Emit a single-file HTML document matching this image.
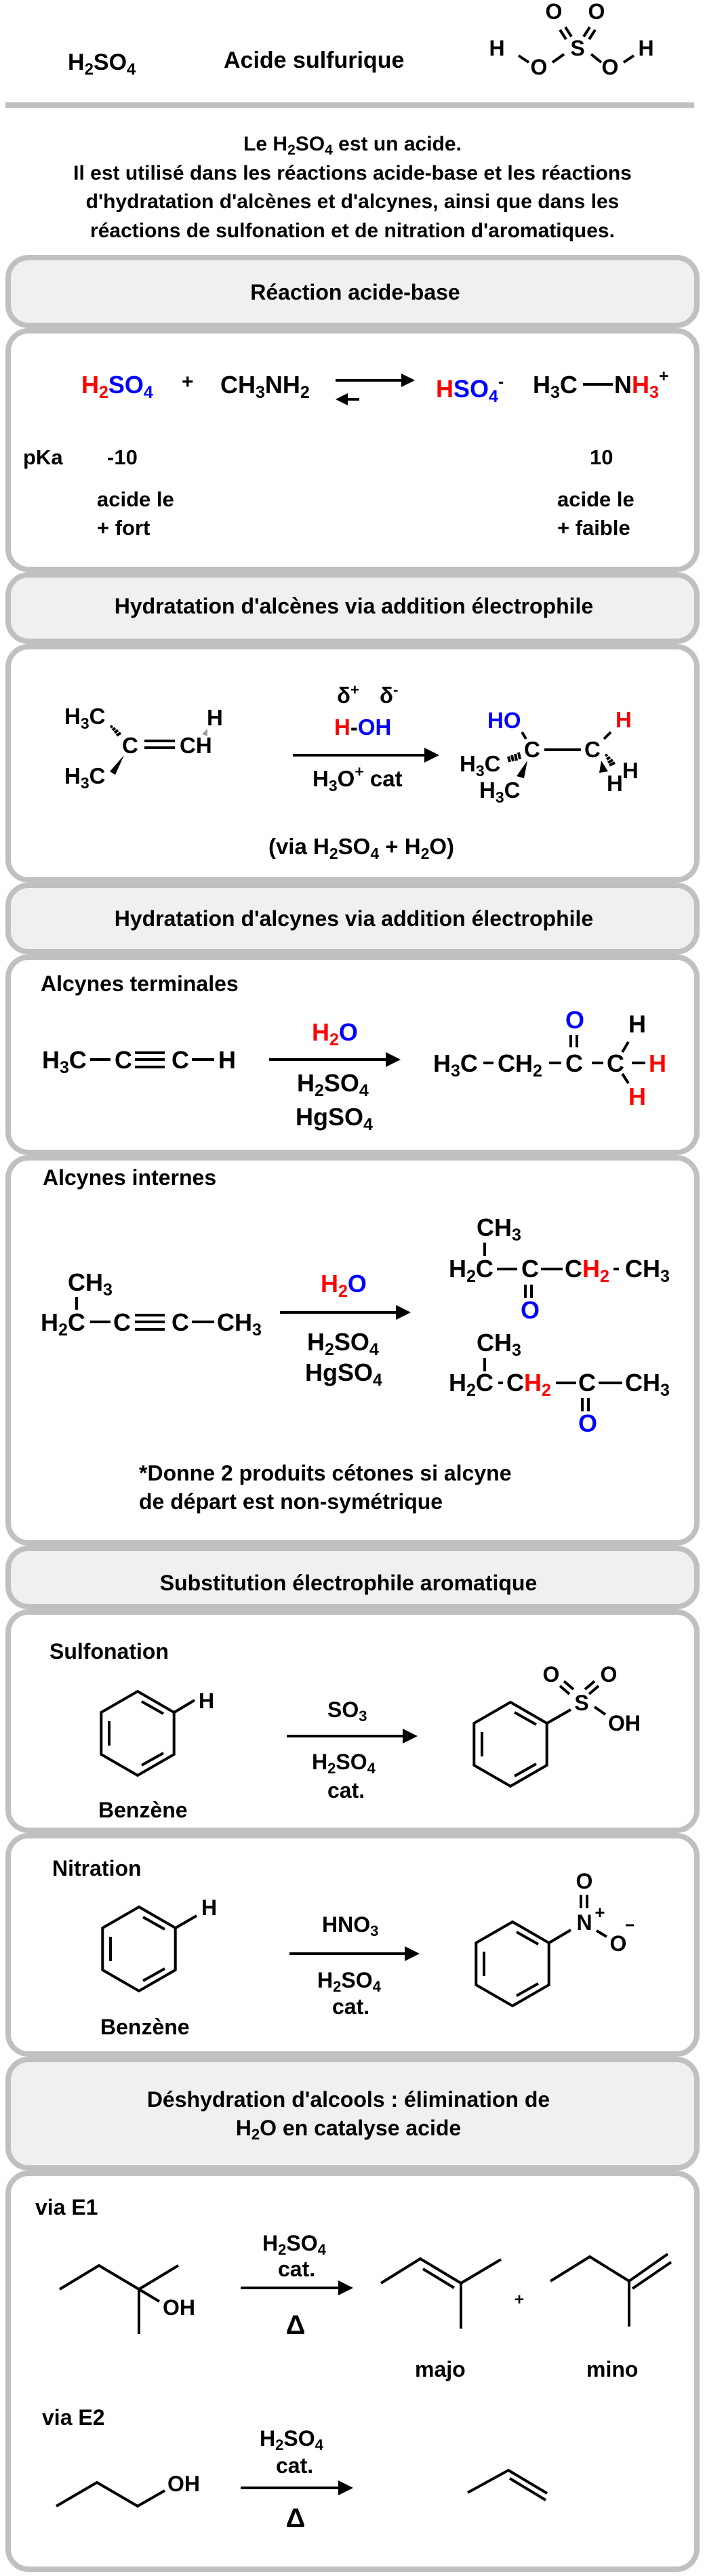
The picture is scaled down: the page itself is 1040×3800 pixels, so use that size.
<!DOCTYPE html>
<html><head><meta charset="utf-8">
<style>
html,body{margin:0;padding:0;background:#fff;}
svg{display:block;}
text{font-family:"Liberation Sans",Arial,sans-serif;font-weight:bold;fill:#000;}
.r{fill:#ff0000;} .b{fill:#0000ff;}
.ln{stroke:#000;stroke-width:4;fill:none;stroke-linecap:butt;}
.bx{fill:#fff;stroke:#c0c0c0;stroke-width:8;}
.hd{fill:#f0f0f0;stroke:#c0c0c0;stroke-width:8;}
</style></head>
<body>
<svg width="1040" height="3800" viewBox="0 0 1040 3800" xmlns="http://www.w3.org/2000/svg">
<defs>
<g id="bz">
<polygon points="0,-62 53.7,-31 53.7,31 0,62 -53.7,31 -53.7,-31" fill="none" stroke="#000" stroke-width="4"/>
<line x1="-42" y1="-18" x2="-42" y2="18" stroke="#000" stroke-width="4"/>
<line x1="6" y1="-47" x2="38" y2="-29" stroke="#000" stroke-width="4"/>
<line x1="38" y1="29" x2="6" y2="47" stroke="#000" stroke-width="4"/>
</g>
</defs>

<!-- top -->
<text x="100" y="103" font-size="34">H<tspan font-size="24" dy="7">2</tspan><tspan dy="-7">SO</tspan><tspan font-size="24" dy="7">4</tspan></text>
<text x="330" y="100" font-size="34">Acide sulfurique</text>
<g font-size="32" text-anchor="middle">
<text x="733" y="82">H</text><text x="795" y="110">O</text><text x="852" y="82">S</text>
<text x="817" y="28">O</text><text x="880" y="28">O</text><text x="900" y="110">O</text><text x="953" y="82">H</text>
</g>
<g class="ln" stroke-width="3.5">
<line x1="765" y1="82" x2="780" y2="92"/><line x1="815" y1="92" x2="832" y2="80"/>
<line x1="872" y1="80" x2="887" y2="92"/><line x1="920" y1="92" x2="935" y2="82"/>
<line x1="826" y1="44" x2="835" y2="58"/><line x1="834" y1="40" x2="843" y2="54"/>
<line x1="861" y1="54" x2="870" y2="40"/><line x1="869" y1="58" x2="878" y2="44"/>
</g>
<rect x="8" y="151" width="1016" height="8" fill="#c0c0c0"/>

<g font-size="30" text-anchor="middle">
<text x="520" y="222">Le H<tspan font-size="21" dy="6">2</tspan><tspan dy="-6">SO</tspan><tspan font-size="21" dy="6">4</tspan><tspan dy="-6"> est un acide.</tspan></text>
<text x="520" y="265">Il est utilisé dans les réactions acide-base et les réactions</text>
<text x="520" y="307">d'hydratation d'alcènes et d'alcynes, ainsi que dans les</text>
<text x="520" y="350">réactions de sulfonation et de nitration d'aromatiques.</text>
</g>

<!-- boxes -->
<rect class="hd" x="12" y="380" width="1016" height="100" rx="30"/>
<rect class="bx" x="12" y="488" width="1016" height="352" rx="30"/>
<rect class="hd" x="12" y="848" width="1016" height="98" rx="30"/>
<rect class="bx" x="12" y="954" width="1016" height="344" rx="30"/>
<rect class="hd" x="12" y="1306" width="1016" height="98" rx="30"/>
<rect class="bx" x="12" y="1412" width="1016" height="288" rx="30"/>
<rect class="bx" x="12" y="1708" width="1016" height="568" rx="30"/>
<rect class="hd" x="12" y="2284" width="1016" height="86" rx="30"/>
<rect class="bx" x="12" y="2378" width="1016" height="322" rx="30"/>
<rect class="bx" x="12" y="2708" width="1016" height="322" rx="30"/>
<rect class="hd" x="12" y="3038" width="1016" height="160" rx="30"/>
<rect class="bx" x="12" y="3206" width="1016" height="584" rx="30"/>

<g font-size="32" text-anchor="middle">
<text x="524" y="442">Réaction acide-base</text>
<text x="522" y="905">Hydratation d'alcènes via addition électrophile</text>
<text x="522" y="1366">Hydratation d'alcynes via addition électrophile</text>
<text x="514" y="2346">Substitution électrophile aromatique</text>
<text x="514" y="3108">Déshydration d'alcools : élimination de</text>
<text x="514" y="3150">H<tspan font-size="22" dy="6">2</tspan><tspan dy="-6">O en catalyse acide</tspan></text>
</g>

<!-- Box 1 acid-base -->
<g font-size="36">
<text x="120" y="580"><tspan class="r">H</tspan><tspan class="r" font-size="25" dy="7">2</tspan><tspan class="b" dy="-7">SO</tspan><tspan class="b" font-size="25" dy="7">4</tspan></text>
<text x="268" y="573" font-size="30">+</text>
<text x="325" y="580">CH<tspan font-size="25" dy="7">3</tspan><tspan dy="-7">NH</tspan><tspan font-size="25" dy="7">2</tspan></text>
<text x="643" y="586"><tspan class="r">H</tspan><tspan class="b">SO</tspan><tspan class="b" font-size="25" dy="7">4</tspan><tspan font-size="25" dy="-22">-</tspan></text>
<text x="786" y="580">H<tspan font-size="25" dy="7">3</tspan><tspan dy="-7">C</tspan></text>
<text x="906" y="580">N<tspan class="r">H</tspan><tspan class="r" font-size="25" dy="7">3</tspan><tspan font-size="25" dy="-24">+</tspan></text>
</g>
<line class="ln" x1="860" y1="567" x2="904" y2="567"/>
<line class="ln" x1="495" y1="561" x2="598" y2="561"/>
<polygon points="612,561 592,551 592,571"/>
<line class="ln" x1="530" y1="589" x2="510" y2="589"/>
<polygon points="495,589 513,580 513,598"/>
<g font-size="31">
<text x="34" y="685">pKa</text>
<text x="158" y="685">-10</text>
<text x="143" y="747">acide le</text>
<text x="143" y="789">+ fort</text>
<text x="870" y="685">10</text>
<text x="822" y="747">acide le</text>
<text x="822" y="789">+ faible</text>
</g>

<!-- Box 2 alkene -->
<g font-size="33">
<text x="95" y="1068">H<tspan font-size="23" dy="7">3</tspan><tspan dy="-7">C</tspan></text>
<text x="95" y="1156">H<tspan font-size="23" dy="7">3</tspan><tspan dy="-7">C</tspan></text>
<text x="180" y="1111">C</text>
<text x="265" y="1111">CH</text>
<text x="305" y="1070">H</text>
<text x="497" y="1037" font-family="Liberation Serif" font-weight="normal">δ<tspan font-size="22" dy="-12" font-family="Liberation Sans" font-weight="bold">+</tspan></text>
<text x="560" y="1037" font-family="Liberation Serif" font-weight="normal">δ<tspan font-size="22" dy="-12" font-family="Liberation Sans" font-weight="bold">-</tspan></text>
<text x="493" y="1084"><tspan class="r">H</tspan><tspan>-</tspan><tspan class="b">OH</tspan></text>
<text x="461" y="1160">H<tspan font-size="23" dy="7">3</tspan><tspan dy="-7">O</tspan><tspan font-size="23" dy="-14">+</tspan><tspan dy="14"> cat</tspan></text>
<text x="719" y="1074" class="b">HO</text>
<text x="773" y="1117">C</text>
<text x="862" y="1117">C</text>
<text x="908" y="1073" class="r">H</text>
<text x="678" y="1138">H<tspan font-size="23" dy="7">3</tspan><tspan dy="-7">C</tspan></text>
<text x="707" y="1177">H<tspan font-size="23" dy="7">3</tspan><tspan dy="-7">C</tspan></text>
<text x="918" y="1148">H</text>
<text x="895" y="1167">H</text>
<text x="533" y="1260" text-anchor="middle">(via H<tspan font-size="23" dy="7">2</tspan><tspan dy="-7">SO</tspan><tspan font-size="23" dy="7">4</tspan><tspan dy="-7"> + H</tspan><tspan font-size="23" dy="7">2</tspan><tspan dy="-7">O)</tspan></text>
</g>
<line class="ln" x1="213" y1="1093" x2="258" y2="1093"/>
<line class="ln" x1="213" y1="1103" x2="258" y2="1103"/>
<g class="ln" stroke-width="2">
<line x1="163" y1="1073" x2="166" y2="1071"/><line x1="166" y1="1077" x2="170" y2="1074"/><line x1="169" y1="1081" x2="174" y2="1077"/><line x1="172" y1="1085" x2="178" y2="1081"/>
</g>
<polygon points="183,1114 162,1138 170,1143"/>
<polygon points="298,1083 306,1075 306,1086" fill="#999"/>
<line class="ln" x1="432" y1="1114" x2="632" y2="1114"/>
<polygon points="648,1114 626,1103 626,1125"/>
<line class="ln" x1="803" y1="1106" x2="857" y2="1106"/>
<line class="ln" x1="770" y1="1080" x2="776" y2="1090"/>
<line class="ln" x1="891" y1="1090" x2="901" y2="1080"/>
<g class="ln" stroke-width="2">
<line x1="750" y1="1116" x2="752" y2="1124"/><line x1="755" y1="1114" x2="757" y2="1123"/><line x1="760" y1="1112" x2="762" y2="1122"/><line x1="765" y1="1110" x2="767" y2="1120"/>
<line x1="893" y1="1115" x2="896" y2="1113"/><line x1="895" y1="1120" x2="900" y2="1117"/><line x1="897" y1="1125" x2="904" y2="1121"/><line x1="899" y1="1129" x2="907" y2="1125"/>
</g>
<polygon points="778,1122 762,1145 773,1148"/>
<polygon points="887,1122 884,1140 897,1138"/>

<!-- Alcynes terminales -->
<g font-size="36">
<text x="60" y="1462" font-size="32">Alcynes terminales</text>
<text x="62" y="1576">H<tspan font-size="25" dy="7">3</tspan><tspan dy="-7">C</tspan></text>
<text x="169" y="1576">C</text><text x="253" y="1576">C</text><text x="322" y="1576">H</text>
<text x="460" y="1535"><tspan class="r">H</tspan><tspan class="r" font-size="25" dy="7">2</tspan><tspan class="b" dy="-7">O</tspan></text>
<text x="438" y="1610">H<tspan font-size="25" dy="7">2</tspan><tspan dy="-7">SO</tspan><tspan font-size="25" dy="7">4</tspan></text>
<text x="436" y="1660">HgSO<tspan font-size="25" dy="7">4</tspan></text>
<text x="639" y="1581">H<tspan font-size="25" dy="7">3</tspan><tspan dy="-7">C</tspan></text>
<text x="734" y="1581">CH<tspan font-size="25" dy="7">2</tspan></text>
<text x="834" y="1581">C</text><text x="895" y="1581">C</text>
<text x="957" y="1581" class="r">H</text>
<text x="834" y="1517" class="b">O</text>
<text x="927" y="1523">H</text>
<text x="927" y="1630" class="r">H</text>
</g>
<g class="ln">
<line x1="133" y1="1563" x2="163" y2="1563"/>
<line x1="199" y1="1553" x2="243" y2="1553"/><line x1="199" y1="1563" x2="243" y2="1563"/><line x1="199" y1="1574" x2="243" y2="1574"/>
<line x1="283" y1="1563" x2="316" y2="1563"/>
<line x1="713" y1="1568" x2="728" y2="1568"/>
<line x1="810" y1="1568" x2="828" y2="1568"/>
<line x1="873" y1="1568" x2="890" y2="1568"/>
<line x1="932" y1="1568" x2="952" y2="1568"/>
<line x1="842" y1="1527" x2="842" y2="1545"/><line x1="851" y1="1527" x2="851" y2="1545"/>
<line x1="918" y1="1552" x2="927" y2="1537"/>
<line x1="918" y1="1584" x2="927" y2="1598"/>
<line x1="397" y1="1563" x2="575" y2="1563"/>
</g>
<polygon points="591,1563 569,1552 569,1574"/>

<!-- Alcynes internes -->
<g font-size="36">
<text x="63" y="1748" font-size="32">Alcynes internes</text>
<text x="100" y="1904">CH<tspan font-size="25" dy="7">3</tspan></text>
<text x="60" y="1963">H<tspan font-size="25" dy="7">2</tspan><tspan dy="-7">C</tspan></text>
<text x="167" y="1963">C</text><text x="253" y="1963">C</text>
<text x="320" y="1963">CH<tspan font-size="25" dy="7">3</tspan></text>
<text x="473" y="1906"><tspan class="r">H</tspan><tspan class="r" font-size="25" dy="7">2</tspan><tspan class="b" dy="-7">O</tspan></text>
<text x="453" y="1992">H<tspan font-size="25" dy="7">2</tspan><tspan dy="-7">SO</tspan><tspan font-size="25" dy="7">4</tspan></text>
<text x="450" y="2037">HgSO<tspan font-size="25" dy="7">4</tspan></text>
<text x="703" y="1823">CH<tspan font-size="25" dy="7">3</tspan></text>
<text x="662" y="1884">H<tspan font-size="25" dy="7">2</tspan><tspan dy="-7">C</tspan></text>
<text x="769" y="1884">C</text>
<text x="833" y="1884">C<tspan class="r">H</tspan><tspan class="r" font-size="25" dy="7">2</tspan></text>
<text x="922" y="1884">CH<tspan font-size="25" dy="7">3</tspan></text>
<text x="768" y="1945" class="b">O</text>
<text x="703" y="1993">CH<tspan font-size="25" dy="7">3</tspan></text>
<text x="662" y="2052">H<tspan font-size="25" dy="7">2</tspan><tspan dy="-7">C</tspan></text>
<text x="747" y="2052">C<tspan class="r">H</tspan><tspan class="r" font-size="25" dy="7">2</tspan></text>
<text x="853" y="2052">C</text>
<text x="922" y="2052">CH<tspan font-size="25" dy="7">3</tspan></text>
<text x="853" y="2112" class="b">O</text>
<text x="205" y="2184" font-size="32">*Donne 2 produits cétones si alcyne</text>
<text x="205" y="2226" font-size="32">de départ est non-symétrique</text>
</g>
<g class="ln">
<line x1="113" y1="1913" x2="113" y2="1932"/>
<line x1="133" y1="1950" x2="163" y2="1950"/>
<line x1="199" y1="1940" x2="243" y2="1940"/><line x1="199" y1="1950" x2="243" y2="1950"/><line x1="199" y1="1961" x2="243" y2="1961"/>
<line x1="283" y1="1950" x2="316" y2="1950"/>
<line x1="413" y1="1936" x2="590" y2="1936"/>
<line x1="715" y1="1833" x2="715" y2="1853"/>
<line x1="733" y1="1872" x2="763" y2="1872"/>
<line x1="798" y1="1872" x2="830" y2="1872"/>
<line x1="905" y1="1872" x2="913" y2="1872"/>
<line x1="775" y1="1895" x2="775" y2="1915"/><line x1="784" y1="1895" x2="784" y2="1915"/>
<line x1="715" y1="2003" x2="715" y2="2023"/>
<line x1="735" y1="2040" x2="742" y2="2040"/>
<line x1="820" y1="2040" x2="850" y2="2040"/>
<line x1="883" y1="2040" x2="918" y2="2040"/>
<line x1="859" y1="2062" x2="859" y2="2082"/><line x1="868" y1="2062" x2="868" y2="2082"/>
</g>
<polygon points="606,1936 584,1925 584,1947"/>

<!-- Sulfonation -->
<g font-size="32">
<text x="73" y="2447">Sulfonation</text>
<text x="293" y="2520">H</text>
<text x="145" y="2681">Benzène</text>
<text x="483" y="2533">SO<tspan font-size="22" dy="6">3</tspan></text>
<text x="460" y="2610">H<tspan font-size="22" dy="6">2</tspan><tspan dy="-6">SO</tspan><tspan font-size="22" dy="6">4</tspan></text>
<text x="483" y="2652">cat.</text>
<text x="858" y="2523" text-anchor="middle">S</text>
<text x="813" y="2481" text-anchor="middle">O</text>
<text x="898" y="2481" text-anchor="middle">O</text>
<text x="897" y="2553">OH</text>
</g>
<use href="#bz" x="203" y="2557"/>
<use href="#bz" x="753" y="2573"/>
<g class="ln">
<line x1="257" y1="2526" x2="287" y2="2508"/>
<line x1="807" y1="2542" x2="842" y2="2522"/>
<line x1="877" y1="2518" x2="893" y2="2529"/>
<line x1="826" y1="2487" x2="840" y2="2499"/><line x1="832" y1="2480" x2="846" y2="2492"/>
<line x1="869" y1="2499" x2="883" y2="2487"/><line x1="863" y1="2492" x2="877" y2="2480"/>
<line x1="423" y1="2561" x2="600" y2="2561"/>
</g>
<polygon points="616,2561 594,2550 594,2572"/>

<!-- Nitration -->
<g font-size="32">
<text x="77" y="2767">Nitration</text>
<text x="297" y="2825">H</text>
<text x="148" y="3001">Benzène</text>
<text x="475" y="2850">HNO<tspan font-size="22" dy="6">3</tspan></text>
<text x="468" y="2932">H<tspan font-size="22" dy="6">2</tspan><tspan dy="-6">SO</tspan><tspan font-size="22" dy="6">4</tspan></text>
<text x="490" y="2971">cat.</text>
<text x="862" y="2847" text-anchor="middle">N</text>
<text x="862" y="2786" text-anchor="middle">O</text>
<text x="912" y="2878" text-anchor="middle">O</text>
<text x="885" y="2830" text-anchor="middle" font-size="26">+</text>
</g>
<use href="#bz" x="205" y="2875"/>
<use href="#bz" x="756" y="2897"/>
<g class="ln">
<line x1="259" y1="2844" x2="290" y2="2826"/>
<line x1="810" y1="2866" x2="842" y2="2847"/>
<line x1="880" y1="2848" x2="895" y2="2857"/>
<line x1="857" y1="2795" x2="857" y2="2815"/><line x1="866" y1="2795" x2="866" y2="2815"/>
<line x1="923" y1="2840" x2="935" y2="2840" stroke-width="3"/>
<line x1="427" y1="2882" x2="603" y2="2882"/>
</g>
<polygon points="619,2882 597,2871 597,2893"/>

<!-- Deshydration -->
<g font-size="32">
<text x="52" y="3267">via E1</text>
<text x="240" y="3415">OH</text>
<text x="387" y="3320">H<tspan font-size="22" dy="6">2</tspan><tspan dy="-6">SO</tspan><tspan font-size="22" dy="6">4</tspan></text>
<text x="410" y="3358">cat.</text>
<text x="436" y="3443" text-anchor="middle" font-size="40" font-family="Liberation Serif" font-weight="normal">Δ</text>
<text x="766" y="3400" text-anchor="middle" font-size="24">+</text>
<text x="612" y="3506">majo</text>
<text x="865" y="3506">mino</text>
<text x="62" y="3577">via E2</text>
<text x="247" y="3675">OH</text>
<text x="383" y="3608">H<tspan font-size="22" dy="6">2</tspan><tspan dy="-6">SO</tspan><tspan font-size="22" dy="6">4</tspan></text>
<text x="407" y="3648">cat.</text>
<text x="436" y="3728" text-anchor="middle" font-size="40" font-family="Liberation Serif" font-weight="normal">Δ</text>
</g>
<g class="ln" stroke-width="3.5">
<polyline points="88,3377 146,3342 205,3377 263,3342"/>
<line x1="205" y1="3377" x2="205" y2="3443"/>
<line x1="205" y1="3377" x2="235" y2="3395"/>
<line x1="355" y1="3375" x2="505" y2="3375"/>
<polyline points="562,3368 620,3332 680,3368 739,3333"/>
<line x1="624" y1="3347" x2="670" y2="3375"/>
<line x1="680" y1="3368" x2="680" y2="3435"/>
<polyline points="812,3365 870,3329 928,3365 985,3325"/>
<line x1="933" y1="3376" x2="990" y2="3337"/>
<line x1="928" y1="3365" x2="928" y2="3432"/>
<polyline points="83,3697 143,3662 203,3697 243,3674"/>
<line x1="355" y1="3670" x2="505" y2="3670"/>
<polyline points="690,3677 750,3644 807,3678"/>
<line x1="752" y1="3656" x2="805" y2="3688"/>
</g>
<polygon points="521,3375 499,3364 499,3386"/>
<polygon points="521,3670 499,3659 499,3681"/>
</svg>
</body></html>
